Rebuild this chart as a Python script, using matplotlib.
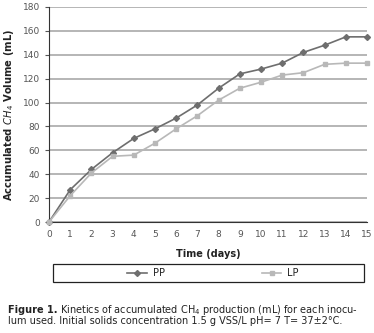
import matplotlib
matplotlib.use("Agg")
import matplotlib.pyplot as plt
from matplotlib.patches import Rectangle

days = list(range(16))
pp = [0, 27, 44, 58, 70, 78, 87, 98, 112, 124, 128, 133, 142, 148, 155, 155]
lp = [0, 22, 41, 55, 56, 66, 78, 89, 102, 112, 117, 123, 125, 132, 133, 133]
yticks = list(range(0, 181, 20))

plt.rcParams['font.family'] = ['DejaVu Sans']

W, H = 374, 333
fig = plt.figure(figsize=(W/100, H/100), dpi=100)
ax = fig.add_axes([49/W, 1-222/H, (367-49)/W, (222-7)/H])

ax.plot(days, pp, color='#6e6e6e', marker='D', markersize=3, lw=1.2, label='PP', clip_on=False, zorder=3)
ax.plot(days, lp, color='#b8b8b8', marker='s', markersize=3.5, lw=1.2, label='LP', clip_on=False, zorder=3)

ax.set_xlim(0, 15)
ax.set_ylim(0, 180)
ax.set_xticks(days)
ax.set_yticks(yticks)
ax.yaxis.grid(True, color='#b0b0b0', lw=1.3)
ax.set_axisbelow(True)
for s in ['top', 'right']:
    ax.spines[s].set_visible(False)
ax.spines['left'].set_color('#333333')
ax.spines['bottom'].set_color('#333333')
ax.tick_params(axis='both', labelsize=6.5, colors='#555555', length=3, width=0.8)
ax.tick_params(axis='x', length=0, pad=6)
ax.set_xlabel('Time (days)', fontsize=7, fontweight='bold', labelpad=7, color='#222222')
ax.set_ylabel('Accumulated $\\mathbf{\\mathit{CH_4}}$ Volume (mL)', fontsize=7.2, fontweight='bold',
              labelpad=5, color='#222222')

fig.add_artist(Rectangle((53/W, 1-282/H), (364-53)/W, 18/H, transform=fig.transFigure,
                         fill=False, edgecolor='#222222', lw=0.9))
leg = fig.legend(loc='center', bbox_to_anchor=(213/W, 1-273/H),
                 ncol=2, fontsize=7, frameon=False,
                 handlelength=2.0, columnspacing=10, handletextpad=0.6)
for t in leg.get_texts():
    t.set_color('#222222')

fig.canvas.draw()
r = fig.canvas.get_renderer()
t1 = fig.text(8/W, 1-310/H, 'Figure 1.', fontsize=7, fontweight='bold', va='center', color='#222222')
bb = t1.get_window_extent(renderer=r)
fig.text(bb.x1/fig.bbox.width + 2/W, 1-310/H,
         'Kinetics of accumulated CH$_4$ production (mL) for each inocu-',
         fontsize=7, va='center', color='#222222')
fig.text(8/W, 1-321/H, 'lum used. Initial solids concentration 1.5 g VSS/L pH= 7 T= 37\u00b12\u00b0C.',
         fontsize=7, va='center', color='#222222')

fig.savefig('out.png', dpi=100)
